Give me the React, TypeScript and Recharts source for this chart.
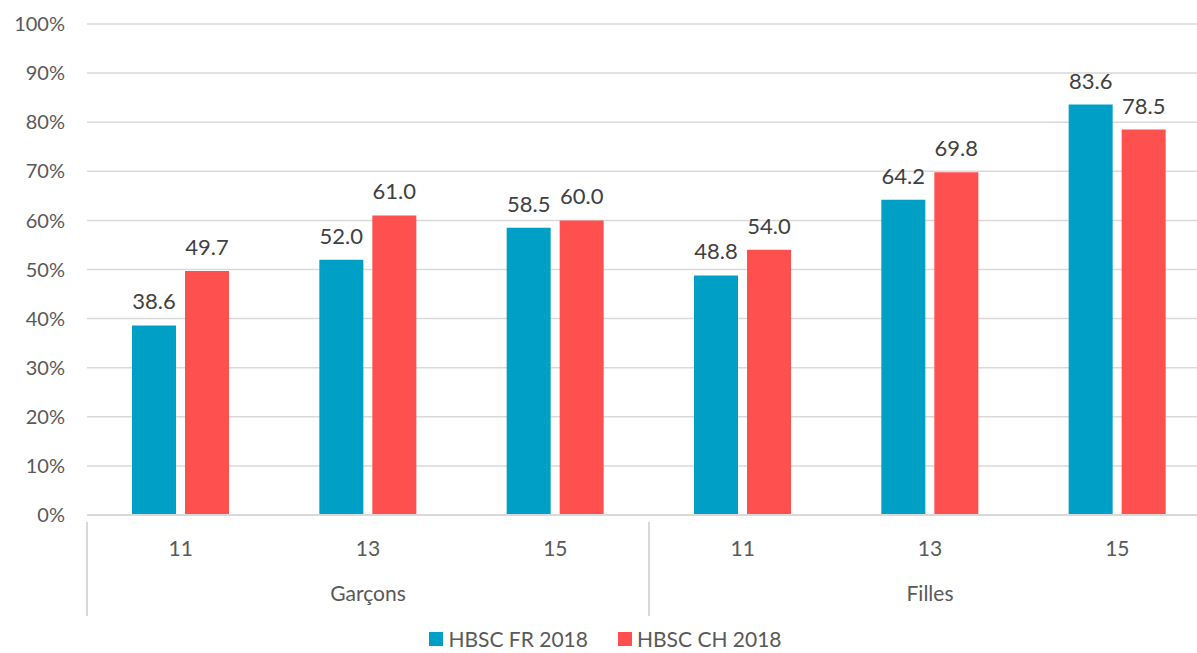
import React from "react";
import {
  BarChart,
  Bar,
  XAxis,
  YAxis,
  CartesianGrid,
  Legend,
  LabelList,
} from "recharts";

const ages = ["11", "13", "15", "11", "13", "15"];
const groups = ["Garçons", "Garçons", "Garçons", "Filles", "Filles", "Filles"];
const hbscFr = [38.6, 52.0, 58.5, 48.8, 64.2, 83.6];
const hbscCh = [49.7, 61.0, 60.0, 54.0, 69.8, 78.5];
const yTicks = [0, 10, 20, 30, 40, 50, 60, 70, 80, 90, 100];

const FONT = "Lato, 'Open Sans', sans-serif";
const BLUE = "#00A0C6";
const RED = "#FF5050";
const AXIS = "#D9D9D9";
const TEXT = "#595959";

const data = ages.map((age, i) => ({
  age,
  group: groups[i],
  fr: hbscFr[i],
  ch: hbscCh[i],
}));

function AgeTick(props: any) {
  const { x, y, payload } = props;
  const i = payload.index as number;
  const half = payload.offset ?? 0;
  const showGroup = i % 3 === 1;
  const isStart = i % 3 === 0;
  return (
    <g>
      <text
        x={x}
        y={y + 33}
        textAnchor="middle"
        fill={TEXT}
        fontSize={21}
        fontFamily={FONT}
      >
        {payload.value}
      </text>
      {showGroup && (
        <text
          x={x}
          y={y + 78}
          textAnchor="middle"
          fill={TEXT}
          fontSize={21}
          fontFamily={FONT}
        >
          {groups[i]}
        </text>
      )}
      {isStart && (
        <line x1={x - half} x2={x - half} y1={y - 1} y2={y + 93} stroke={AXIS} strokeWidth={2} />
      )}
    </g>
  );
}

function ChartLegend() {
  const items = [
    { label: "HBSC FR 2018", color: BLUE },
    { label: "HBSC CH 2018", color: RED },
  ];
  return (
    <div style={{ display: "flex", justifyContent: "center", gap: 30, marginTop: 11, fontFamily: FONT, fontSize: 21, color: TEXT }}>
      {items.map((it) => (
        <div key={it.label} style={{ display: "flex", alignItems: "center", gap: 5 }}>
          <span style={{ width: 14, height: 14, background: it.color, display: "inline-block" }} />
          <span>{it.label}</span>
        </div>
      ))}
    </div>
  );
}

export default function App() {
  return (
    <div style={{ position: "absolute", left: 0, top: 0, width: 1197, height: 653, overflow: "hidden", background: "#fff" }}>
      <BarChart
        width={1231}
        height={653}
        data={data}
        margin={{ top: 24, right: 20, bottom: 0, left: 0 }}
        barGap={9}
        barSize={44}
      >
        <CartesianGrid vertical={false} stroke={AXIS} strokeWidth={1.5} />
        <YAxis
          domain={[0, 100]}
          ticks={yTicks}
          tickFormatter={(v) => `${v}%`}
          axisLine={false}
          tickLine={false}
          tickSize={0}
          tickMargin={22}
          width={87}
          tick={{ fill: TEXT, fontSize: 20, fontFamily: FONT }}
          interval={0}
        />
        <XAxis
          dataKey="age"
          interval={0}
          height={100}
          axisLine={{ stroke: AXIS, strokeWidth: 2 }}
          tickLine={false}
          tick={<AgeTick />}
        />
        <Legend verticalAlign="bottom" height={38} content={<ChartLegend />} />
        <Bar dataKey="fr" name="HBSC FR 2018" fill={BLUE} isAnimationActive={false}>
          <LabelList
            dataKey="fr"
            position="top"
            offset={16}
            formatter={(v: any) => Number(v).toFixed(1)}
            style={{ fill: "#404040", fontSize: 22, fontFamily: FONT }}
          />
        </Bar>
        <Bar dataKey="ch" name="HBSC CH 2018" fill={RED} isAnimationActive={false}>
          <LabelList
            dataKey="ch"
            position="top"
            offset={16}
            formatter={(v: any) => Number(v).toFixed(1)}
            style={{ fill: "#404040", fontSize: 22, fontFamily: FONT }}
          />
        </Bar>
      </BarChart>
    </div>
  );
}
